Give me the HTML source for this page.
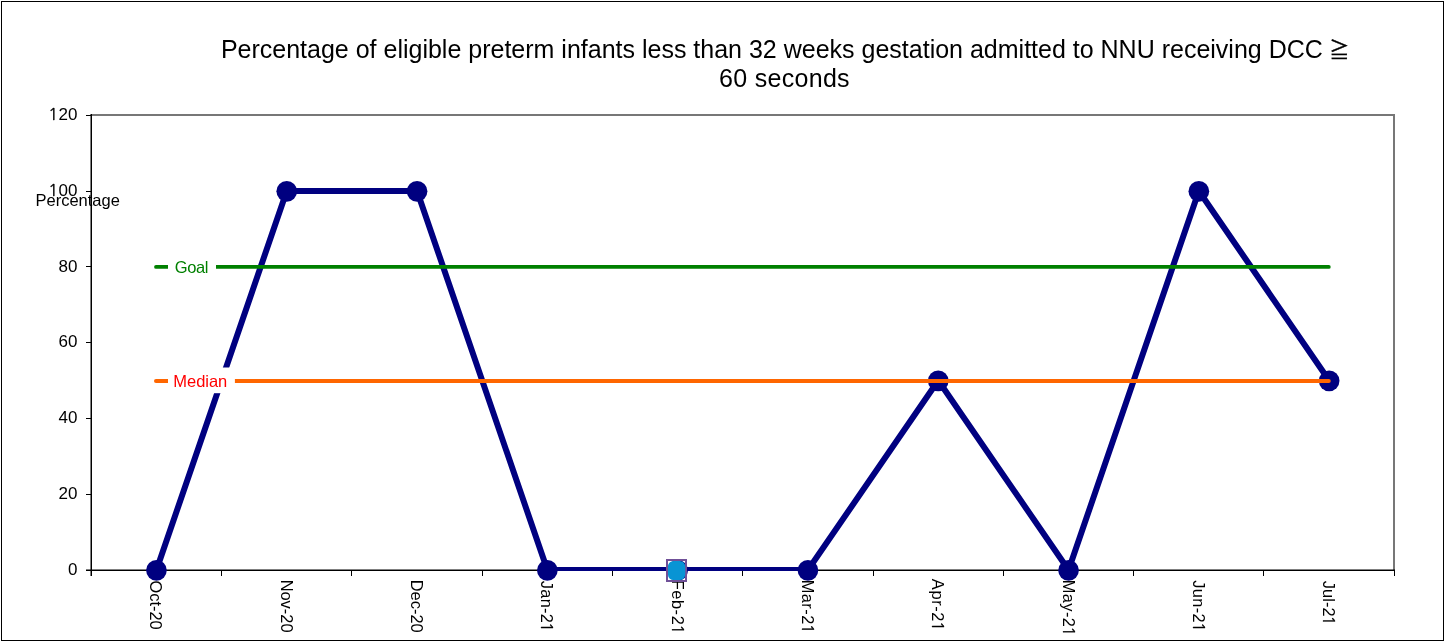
<!DOCTYPE html>
<html><head><meta charset="utf-8"><style>html,body{margin:0;padding:0;background:#fff;overflow:hidden}svg{display:block}</style></head>
<body><svg width="1444" height="641" viewBox="0 0 1444 641">
<defs><clipPath id="pc"><rect x="0" y="0" width="1444" height="571"/></clipPath></defs>
<rect x="1.5" y="1.5" width="1442" height="639" fill="#fff" stroke="#000" stroke-width="1"/>
<path d="M91 115 H1394 V570" fill="none" stroke="#777" stroke-width="2"/>
<line x1="91.25" y1="114" x2="91.25" y2="576" stroke="#000" stroke-width="1.5"/>
<line x1="86" y1="570.25" x2="1395" y2="570.25" stroke="#000" stroke-width="1.5"/>
<line x1="86" y1="570.5" x2="91" y2="570.5" stroke="#000" stroke-width="1"/>
<text y="574.70" font-family="Liberation Sans, Arial, sans-serif" font-size="17" fill="#000" ><tspan x="68.05">0</tspan></text>
<line x1="86" y1="494.5" x2="91" y2="494.5" stroke="#000" stroke-width="1"/>
<text y="498.90" font-family="Liberation Sans, Arial, sans-serif" font-size="17" fill="#000" ><tspan x="58.59 68.05">20</tspan></text>
<line x1="86" y1="418.5" x2="91" y2="418.5" stroke="#000" stroke-width="1"/>
<text y="423.10" font-family="Liberation Sans, Arial, sans-serif" font-size="17" fill="#000" ><tspan x="58.59 68.05">40</tspan></text>
<line x1="86" y1="342.5" x2="91" y2="342.5" stroke="#000" stroke-width="1"/>
<text y="347.30" font-family="Liberation Sans, Arial, sans-serif" font-size="17" fill="#000" ><tspan x="58.59 68.05">60</tspan></text>
<line x1="86" y1="266.5" x2="91" y2="266.5" stroke="#000" stroke-width="1"/>
<text y="271.50" font-family="Liberation Sans, Arial, sans-serif" font-size="17" fill="#000" ><tspan x="58.59 68.05">80</tspan></text>
<line x1="86" y1="191.5" x2="91" y2="191.5" stroke="#000" stroke-width="1"/>
<text y="195.70" font-family="Liberation Sans, Arial, sans-serif" font-size="17" fill="#000" ><tspan x="48.24" font-family="NanumGothic, sans-serif" font-size="16.40" stroke="#000" stroke-width="0.35">1</tspan><tspan x="58.59 68.05">00</tspan></text>
<line x1="86" y1="115.5" x2="91" y2="115.5" stroke="#000" stroke-width="1"/>
<text y="119.90" font-family="Liberation Sans, Arial, sans-serif" font-size="17" fill="#000" ><tspan x="48.24" font-family="NanumGothic, sans-serif" font-size="16.40" stroke="#000" stroke-width="0.35">1</tspan><tspan x="58.59 68.05">20</tspan></text>
<line x1="221.5" y1="570" x2="221.5" y2="576" stroke="#000" stroke-width="1"/>
<line x1="351.5" y1="570" x2="351.5" y2="576" stroke="#000" stroke-width="1"/>
<line x1="482.5" y1="570" x2="482.5" y2="576" stroke="#000" stroke-width="1"/>
<line x1="612.5" y1="570" x2="612.5" y2="576" stroke="#000" stroke-width="1"/>
<line x1="742.5" y1="570" x2="742.5" y2="576" stroke="#000" stroke-width="1"/>
<line x1="873.5" y1="570" x2="873.5" y2="576" stroke="#000" stroke-width="1"/>
<line x1="1003.5" y1="570" x2="1003.5" y2="576" stroke="#000" stroke-width="1"/>
<line x1="1133.5" y1="570" x2="1133.5" y2="576" stroke="#000" stroke-width="1"/>
<line x1="1263.5" y1="570" x2="1263.5" y2="576" stroke="#000" stroke-width="1"/>
<line x1="1394.5" y1="570" x2="1394.5" y2="576" stroke="#000" stroke-width="1"/>
<polyline clip-path="url(#pc)" points="156.45,570.00 286.75,191.00 417.05,191.00 547.35,570.00 677.65,570.00 807.95,570.00 938.25,380.50 1068.55,570.00 1198.85,191.00 1329.15,380.50" fill="none" stroke="#000080" stroke-width="6" stroke-linejoin="round"/>
<circle cx="156.45" cy="570.35" r="10.35" fill="#000080"/>
<circle cx="286.75" cy="191.35" r="10.35" fill="#000080"/>
<circle cx="417.05" cy="191.35" r="10.35" fill="#000080"/>
<circle cx="547.35" cy="570.35" r="10.35" fill="#000080"/>
<circle cx="677.65" cy="570.35" r="10.35" fill="#000080"/>
<circle cx="807.95" cy="570.35" r="10.35" fill="#000080"/>
<circle cx="938.25" cy="380.85" r="10.35" fill="#000080"/>
<circle cx="1068.55" cy="570.35" r="10.35" fill="#000080"/>
<circle cx="1198.85" cy="191.35" r="10.35" fill="#000080"/>
<circle cx="1329.15" cy="380.85" r="10.35" fill="#000080"/>
<line x1="156" y1="266.9" x2="1328.8" y2="266.9" stroke="#008000" stroke-width="3.8" stroke-linecap="round"/>
<line x1="156" y1="380.9" x2="1328.8" y2="380.9" stroke="#FF6600" stroke-width="4" stroke-linecap="round"/>
<rect x="168" y="254.05" width="48" height="25.7" fill="#fff"/>
<text x="174.78" y="273.1" font-family="Liberation Sans, Arial, sans-serif" font-size="16.5" fill="#008000" textLength="33.73" lengthAdjust="spacing">Goal</text>
<rect x="168" y="367.5" width="66.9" height="25.7" fill="#fff"/>
<text x="173.25" y="386.8" font-family="Liberation Sans, Arial, sans-serif" font-size="16.5" fill="#FF0000" textLength="54.03" lengthAdjust="spacing">Median</text>
<g transform="translate(150.4,580.62) rotate(90)"><text y="0.00" font-family="Liberation Sans, Arial, sans-serif" font-size="16.4" fill="#000" ><tspan x="0.00 12.74 20.92 25.45 30.90 40.00">Oct-20</tspan></text></g>
<g transform="translate(280.7,579.65) rotate(90)"><text y="0.00" font-family="Liberation Sans, Arial, sans-serif" font-size="16.4" fill="#000" ><tspan x="0.00 11.85 20.97 29.18 34.64 43.77">Nov-20</tspan></text></g>
<g transform="translate(410.9,579.75) rotate(90)"><text y="0.00" font-family="Liberation Sans, Arial, sans-serif" font-size="16.4" fill="#000" ><tspan x="0.00 11.87 21.01 29.24 34.72 43.87">Dec-20</tspan></text></g>
<g transform="translate(541.2,580.74) rotate(90)"><text y="0.00" font-family="Liberation Sans, Arial, sans-serif" font-size="16.4" fill="#000" ><tspan x="0.00 8.49 17.90 27.32 33.07">Jan-2</tspan><tspan x="41.62" font-family="NanumGothic, sans-serif" font-size="15.82" stroke="#000" stroke-width="0.35">1</tspan></text></g>
<g transform="translate(671.5,579.65) rotate(90)"><text y="0.00" font-family="Liberation Sans, Arial, sans-serif" font-size="16.4" fill="#000" ><tspan x="0.00 10.58 20.27 29.96 35.99">Feb-2</tspan><tspan x="44.80" font-family="NanumGothic, sans-serif" font-size="15.82" stroke="#000" stroke-width="0.35">1</tspan></text></g>
<g transform="translate(801.9,579.65) rotate(90)"><text y="0.00" font-family="Liberation Sans, Arial, sans-serif" font-size="16.4" fill="#000" ><tspan x="0.00 14.13 23.72 29.65 35.58">Mar-2</tspan><tspan x="44.30" font-family="NanumGothic, sans-serif" font-size="15.82" stroke="#000" stroke-width="0.35">1</tspan></text></g>
<g transform="translate(932.1,578.87) rotate(90)"><text y="0.00" font-family="Liberation Sans, Arial, sans-serif" font-size="16.4" fill="#000" ><tspan x="0.00 11.57 21.32 27.41 33.51">Apr-2</tspan><tspan x="42.39" font-family="NanumGothic, sans-serif" font-size="15.82" stroke="#000" stroke-width="0.35">1</tspan></text></g>
<g transform="translate(1062.5,579.65) rotate(90)"><text y="0.00" font-family="Liberation Sans, Arial, sans-serif" font-size="16.4" fill="#000" ><tspan x="0.00 14.10 23.67 32.31 38.21">May-2</tspan><tspan x="46.90" font-family="NanumGothic, sans-serif" font-size="15.82" stroke="#000" stroke-width="0.35">1</tspan></text></g>
<g transform="translate(1192.8,580.34) rotate(90)"><text y="0.00" font-family="Liberation Sans, Arial, sans-serif" font-size="16.4" fill="#000" ><tspan x="0.00 8.53 17.98 27.44 33.23">Jun-2</tspan><tspan x="41.82" font-family="NanumGothic, sans-serif" font-size="15.82" stroke="#000" stroke-width="0.35">1</tspan></text></g>
<g transform="translate(1323.1,580.74) rotate(90)"><text y="0.00" font-family="Liberation Sans, Arial, sans-serif" font-size="16.4" fill="#000" ><tspan x="0.00 8.29 17.50 21.23 26.78">Jul-2</tspan><tspan x="35.12" font-family="NanumGothic, sans-serif" font-size="15.82" stroke="#000" stroke-width="0.35">1</tspan></text></g>
<rect x="667" y="560" width="19" height="21" fill="none" stroke="#705098" stroke-width="2"/>
<rect x="668" y="561" width="17.2" height="19" rx="5.5" ry="5.5" fill="#0894D4"/>
<text x="35.5" y="206" font-family="Liberation Sans, Arial, sans-serif" font-size="16.5">Percentage</text>
<text x="220.9" y="57.9" font-family="Liberation Sans, Arial, sans-serif" font-size="25">Percentage of eligible preterm infants less than 32 weeks gestation admitted to NNU receiving DCC</text>
<text transform="translate(1329.3,57.2) scale(0.94,0.97)" font-family="Noto Sans CJK JP, sans-serif" font-size="21.5" stroke="#000" stroke-width="0.35">≧</text>
<text x="719.1" y="86.8" font-family="Liberation Sans, Arial, sans-serif" font-size="25" textLength="130.5" lengthAdjust="spacing">60 seconds</text>
</svg></body></html>
